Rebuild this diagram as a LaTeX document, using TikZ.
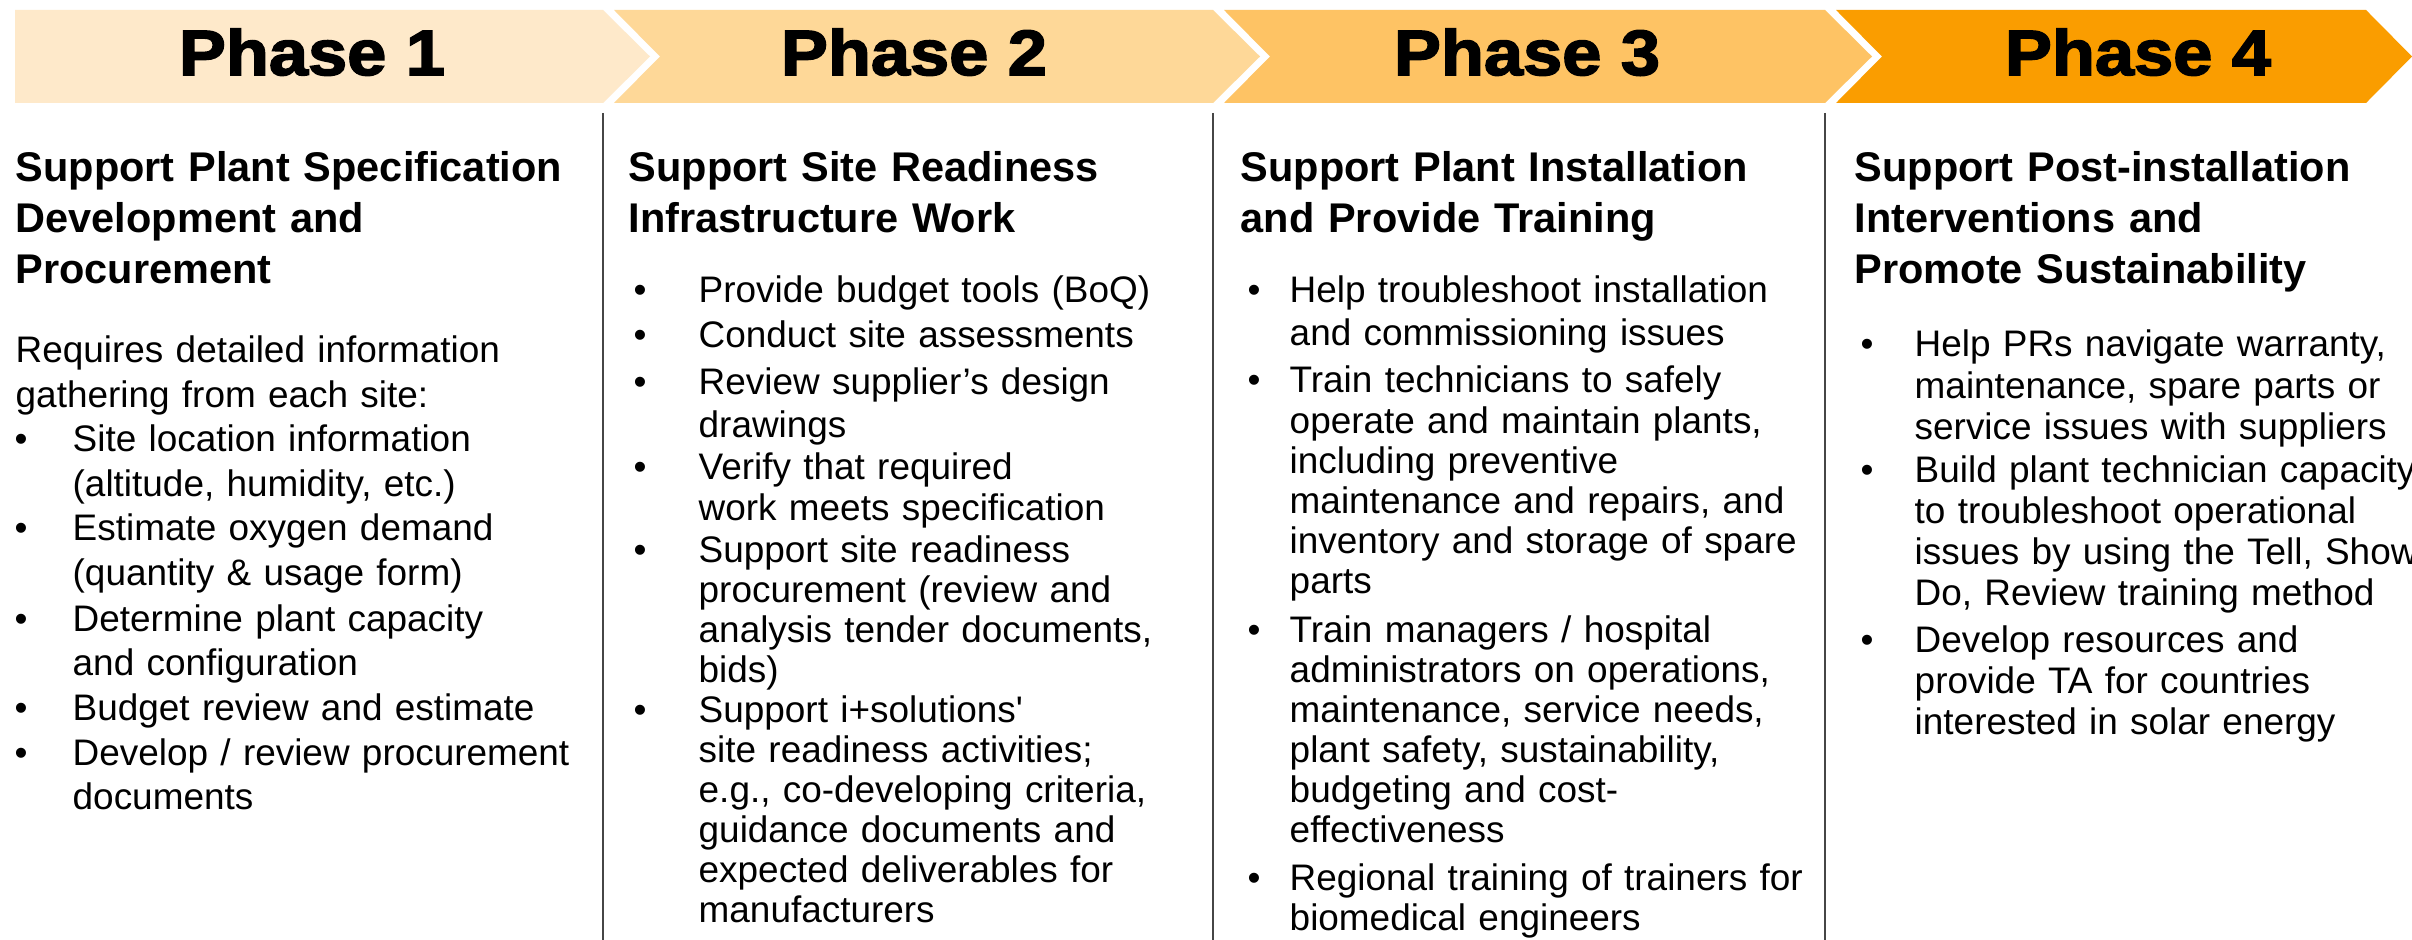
\documentclass[tikz,border=0pt]{standalone}
\usepackage{fontspec}
\setmainfont{Liberation Sans}
\newfontfamily\phasefont[FakeStretch=1.1,BoldFeatures={FakeBold=2.5}]{Liberation Sans}
\usepackage{tikz}
\definecolor{phaseone}{RGB}{254,233,202}
\definecolor{phasetwo}{RGB}{254,216,152}
\definecolor{phasethree}{RGB}{254,195,100}
\definecolor{phasefour}{RGB}{250,157,0}
\definecolor{rulegray}{RGB}{70,70,70}

\begin{document}
\begin{tikzpicture}[x=0.01cm, y=-0.01cm,
  every node/.style={inner sep=0pt},
  phaselabel/.style={anchor=base, font=\phasefont\bfseries\fontsize{18.2pt}{20pt}\selectfont},
  heading/.style={anchor=base west, align=left, text width=7cm, font=\bfseries\fontsize{11.8pt}{14.37pt}\selectfont},
  bodytext/.style={anchor=base west, align=left, text width=7cm, font=\fontsize{10.5pt}{#1}\selectfont},
  bulletmark/.style={anchor=base west, font=\fontsize{10.5pt}{12pt}\selectfont},
  divline/.style={draw=rulegray, line width=0.6pt}]
\useasboundingbox[fill=white] (0,0) rectangle (2412,940);

% Phase bands
\fill[phaseone] (15,10) -- (603,10) -- (650,56.5) -- (603,103) -- (15,103) -- cycle;
\fill[phasetwo] (614,10) -- (1213,10) -- (1260,56.5) -- (1213,103) -- (614,103) -- (660,56.5) -- cycle;
\fill[phasethree] (1224,10) -- (1825,10) -- (1872,56.5) -- (1825,103) -- (1224,103) -- (1270,56.5) -- cycle;
\fill[phasefour] (1836,10) -- (2366,10) -- (2412,56.5) -- (2366,103) -- (1836,103) -- (1882,56.5) -- cycle;
\node[phaselabel] (p1) at (312,75) {Phase 1};
\node[phaselabel] (p2) at (914,75) {Phase 2};
\node[phaselabel] (p3) at (1527,75) {Phase 3};
\node[phaselabel] (p4) at (2138,75) {Phase 4};

% Column dividers
\draw[divline] (603,113) -- (603,940);
\draw[divline] (1213,113) -- (1213,940);
\draw[divline] (1825,113) -- (1825,940);

% Phase 1
\node[heading] (t1) at (15,182) {Support Plant Specification\\Development and\\Procurement};
\node[bodytext=12.69pt] (intro1) at (15,363) {Requires detailed information\\gathering from each site:};
\node[bulletmark] (b11) at (14,452) {•};
\node[bodytext=12.69pt] (i11) at (72,452) {Site location information\\(altitude, humidity, etc.)};
\node[bulletmark] (b12) at (14,541) {•};
\node[bodytext=12.69pt] (i12) at (72,541) {Estimate oxygen demand\\(quantity \& usage form)};
\node[bulletmark] (b13) at (14,631) {•};
\node[bodytext=12.69pt] (i13) at (72,631) {Determine plant capacity\\and configuration};
\node[bulletmark] (b14) at (14,720) {•};
\node[bodytext=12.69pt] (i14) at (72,720) {Budget review and estimate};
\node[bulletmark] (b15) at (14,765) {•};
\node[bodytext=12.69pt] (i15) at (72,765) {Develop / review procurement\\documents};

% Phase 2
\node[heading] (t2) at (628,182) {Support Site Readiness\\Infrastructure Work};
\node[bulletmark] (b21) at (633,303) {•};
\node[bodytext=11.38pt] (i21) at (698,303) {Provide budget tools (BoQ)};
\node[bulletmark] (b22) at (633,348) {•};
\node[bodytext=11.38pt] (i22) at (698,348) {Conduct site assessments};
\node[bulletmark] (b23) at (633,395) {•};
\node[bodytext=12pt] (i23) at (698,395) {Review supplier’s design\\drawings};
\node[bulletmark] (b24) at (633,480) {•};
\node[bodytext=11.38pt] (i24) at (698,480) {Verify that required\\work meets specification};
\node[bulletmark] (b25) at (633,562) {•};
\node[bodytext=11.38pt] (i25) at (698,562) {Support site readiness\\procurement (review and\\analysis tender documents,\\bids)};
\node[bulletmark] (b26) at (633,722) {•};
\node[bodytext=11.38pt] (i26) at (698,722) {Support i+solutions\textquotesingle\\site readiness activities;\\e.g., co-developing criteria,\\guidance documents and\\expected deliverables for\\manufacturers};

% Phase 3
\node[heading] (t3) at (1240,182) {Support Plant Installation\\and Provide Training};
\node[bulletmark] (b31) at (1247,303) {•};
\node[bodytext=12pt] (i31) at (1289,303) {Help troubleshoot installation\\and commissioning issues};
\node[bulletmark] (b32) at (1247,393) {•};
\node[bodytext=11.38pt] (i32) at (1289,393) {Train technicians to safely\\operate and maintain plants,\\including preventive\\maintenance and repairs, and\\inventory and storage of spare\\parts};
\node[bulletmark] (b33) at (1247,642) {•};
\node[bodytext=11.38pt] (i33) at (1289,642) {Train managers / hospital\\administrators on operations,\\maintenance, service needs,\\plant safety, sustainability,\\budgeting and cost-\\effectiveness};
\node[bulletmark] (b34) at (1247,890) {•};
\node[bodytext=11.38pt] (i34) at (1289,890) {Regional training of trainers for\\biomedical engineers};

% Phase 4
\node[heading] (t4) at (1854,182) {Support Post-installation\\Interventions and\\Promote Sustainability};
\node[bulletmark] (b41) at (1860,357) {•};
\node[bodytext=11.67pt] (i41) at (1914,357) {Help PRs navigate warranty,\\maintenance, spare parts or\\service issues with suppliers};
\node[bulletmark] (b42) at (1860,482) {•};
\node[bodytext=11.67pt] (i42) at (1914,482) {Build plant technician capacity\\to troubleshoot operational\\issues by using the Tell, Show,\\Do, Review training method};
\node[bulletmark] (b43) at (1860,652) {•};
\node[bodytext=11.67pt] (i43) at (1914,652) {Develop resources and\\provide TA for countries\\interested in solar energy};
\end{tikzpicture}
\end{document}
